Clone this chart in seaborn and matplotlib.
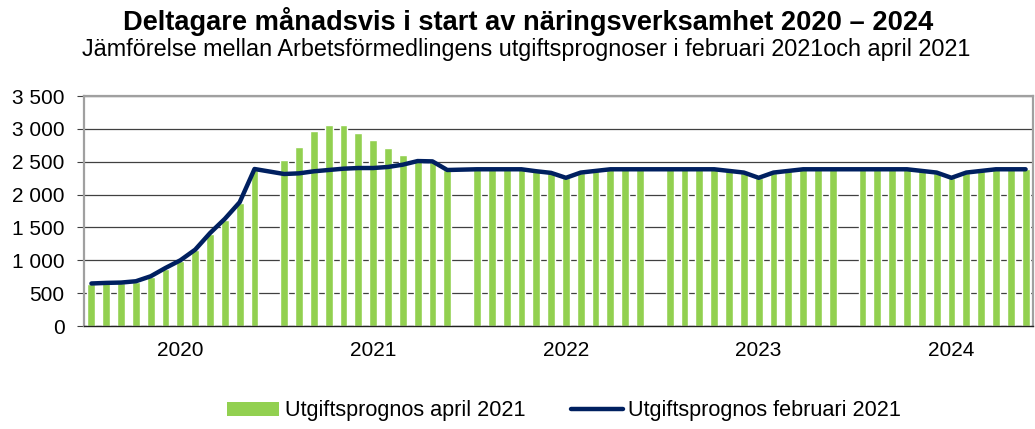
import matplotlib
matplotlib.use("Agg")
import matplotlib.pyplot as plt
from matplotlib.ticker import FuncFormatter, FixedLocator
from matplotlib.patches import Patch
from matplotlib.lines import Line2D
import numpy as np
import pandas as pd
import seaborn as sns

years = ["2020", "2021", "2022", "2023", "2024"]

# Utgiftsprognos april 2021 (bars), per year Jan-Dec
april_2020 = [640, 650, 655, 675, 750, 875, 990, 1150, 1400, 1620, 1870, 2380]
april_2021 = [2525, 2717, 2960, 3066, 3066, 2934, 2833, 2707, 2606, 2520, 2500, 2370]
april_2022 = [2385, 2385, 2385, 2385, 2355, 2330, 2255, 2335, 2360, 2385, 2385, 2385]
april_2023 = [2385, 2385, 2385, 2385, 2360, 2335, 2255, 2335, 2360, 2385, 2385, 2385]
april_2024 = [2385, 2385, 2385, 2385, 2360, 2335, 2255, 2335, 2360, 2385, 2385, 2385]

# Utgiftsprognos februari 2021 (line)
feb_2020 = [647, 656, 661, 681, 757, 884, 1000, 1162, 1414, 1631, 1884, 2389]
feb_2021 = [2313, 2323, 2354, 2374, 2394, 2404, 2404, 2420, 2455, 2510, 2505, 2374]
feb_2022 = [2385, 2385, 2385, 2385, 2355, 2330, 2255, 2335, 2360, 2385, 2385, 2385]
feb_2023 = [2385, 2385, 2385, 2385, 2360, 2335, 2255, 2335, 2360, 2385, 2385, 2385]
feb_2024 = [2385, 2385, 2385, 2385, 2360, 2335, 2255, 2335, 2360, 2385, 2385, 2385]

april = [april_2020, april_2021, april_2022, april_2023, april_2024]
feb = [feb_2020, feb_2021, feb_2022, feb_2023, feb_2024]

# one empty slot after each year, as in the original sheet
rows = []
slot = 0
for i, y in enumerate(years):
    for m in range(12):
        rows.append({"slot": slot, "april": april[i][m], "feb": feb[i][m]})
        slot += 1
    if i < len(years) - 1:
        rows.append({"slot": slot, "april": np.nan, "feb": np.nan})
        slot += 1
df = pd.DataFrame(rows)
nslots = len(df)

green = "#92D050"
navy = "#002060"

sns.set_style("white")
plt.rcParams["font.family"] = ["Liberation Sans", "DejaVu Sans"]
plt.rcParams["text.color"] = "black"
plt.rcParams["xtick.color"] = "black"
plt.rcParams["ytick.color"] = "black"

fig = plt.figure(figsize=(10.35, 4.29), dpi=100)
ax = fig.add_axes([84 / 1035, 1 - 326 / 429, (1033 - 84) / 1035, (326 - 96) / 429])

d = df.dropna()
sns.barplot(data=d, x="slot", y="april", native_scale=True, color=green,
            width=0.53, saturation=1, ax=ax, zorder=2)
sns.lineplot(data=d, x="slot", y="feb", color=navy, lw=3.2, ax=ax, zorder=3,
             solid_capstyle="round")

ax.set_xlim(-0.5, nslots - 0.5)
ax.set_ylim(0, 3500)
ax.set_yticks(np.arange(0, 3501, 500))
ax.yaxis.set_major_formatter(FuncFormatter(lambda v, p: f"{int(v):,}".replace(",", " ")))
ax.grid(axis="y", color="#404040", lw=0.9, zorder=0)
ax.set_axisbelow(True)

year_pos = [6 + 13 * i for i in range(len(years))]
ax.xaxis.set_major_locator(FixedLocator(year_pos))
ax.set_xticklabels(years)
ax.xaxis.set_minor_locator(FixedLocator(np.arange(-0.5, nslots, 1)))
ax.tick_params(axis="x", which="major", length=0, pad=11, labelsize=15)
ax.tick_params(axis="x", which="minor", length=4, width=0.8, color="#404040", direction="out")
ax.tick_params(axis="y", length=5, width=0.8, color="#404040", pad=9, labelsize=15, left=True)

ax.set_xlabel("")
ax.set_ylabel("")
for s in ["top", "right", "left"]:
    ax.spines[s].set_color("#A0A0A0")
    ax.spines[s].set_linewidth(1.6)
ax.spines["bottom"].set_color("#202020")
ax.spines["bottom"].set_linewidth(1.0)

fig.text(0.51, 0.949, "Deltagare månadsvis i start av näringsverksamhet 2020 – 2024",
         ha="center", va="center", fontsize=19.6, fontweight="bold")
fig.text(0.508, 0.885, "Jämförelse mellan Arbetsförmedlingens utgiftsprognoser i februari 2021och april 2021",
         ha="center", va="center", fontsize=16.8)

handles = [Patch(facecolor=green, edgecolor="none"),
           Line2D([0], [0], color=navy, lw=3.2, solid_capstyle="round")]
fig.legend(handles, ["Utgiftsprognos april 2021", "Utgiftsprognos februari 2021"],
           loc="center", bbox_to_anchor=(0.545, 0.042), ncol=2, frameon=False,
           fontsize=15.6, handlelength=2.4, handleheight=0.6, handletextpad=0.25,
           columnspacing=2.1, borderpad=0)

fig.savefig("out.png", dpi=100)
